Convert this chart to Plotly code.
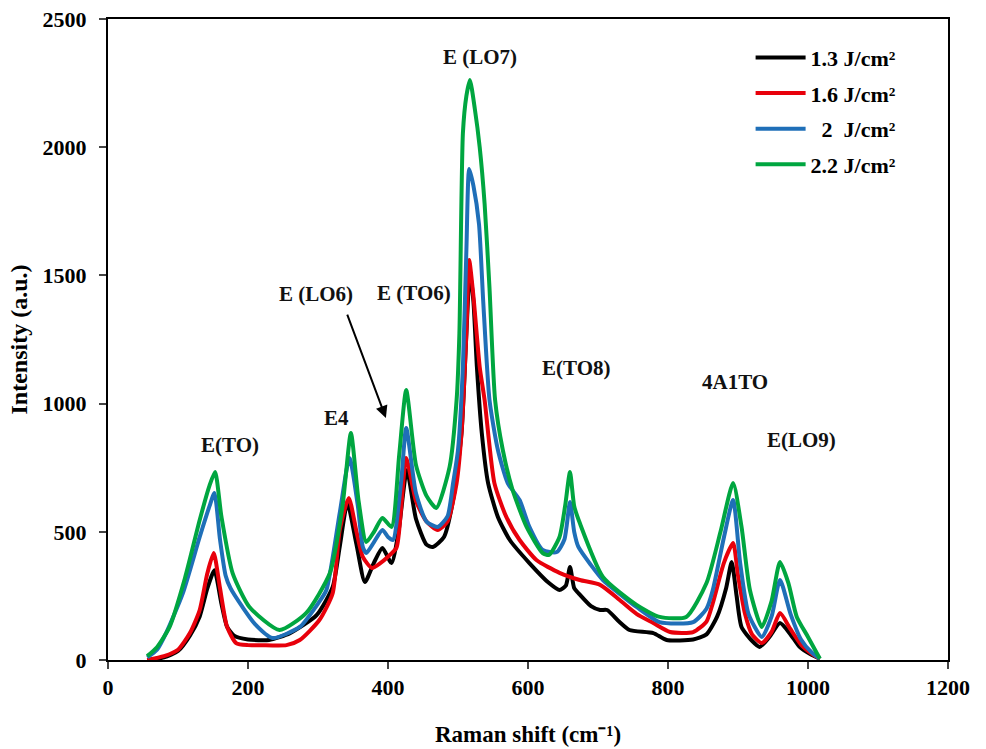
import plotly.graph_objects as go

# ---- data ----
x_13 = [56, 80, 100, 117, 131, 142, 152, 162, 170, 180, 200, 230, 260, 298, 321, 331, 342, 355, 367, 380, 392, 405,
        415, 427, 440, 455, 464, 480, 493, 505, 512, 517, 522, 527, 534, 543, 557, 574, 602, 630, 645, 654, 660, 666,
        672, 690, 703, 713, 730, 745, 779, 798, 836, 855, 870, 883, 891, 898, 905, 920, 931, 945, 960, 975, 988, 1005, 1017]
y_13 = [0, 10, 35, 95, 170, 280, 350, 220, 130, 95, 80, 78, 105, 175, 285, 441, 612, 450, 304, 380, 437, 378,
        500, 740, 550, 450, 441, 480, 624, 885, 1275, 1515, 1400, 1143, 885, 690, 558, 468, 378, 300, 273, 290, 363, 280,
        261, 210, 195, 195, 150, 117, 105, 78, 80, 100, 168, 280, 382, 250, 129, 75, 51, 90, 144, 100, 51, 20, 5]

x_16 = [56, 80, 100, 117, 131, 142, 151, 160, 170, 183, 200, 217, 255, 274, 302, 321, 331, 344, 355, 364, 377, 390,
        398, 412, 419, 426, 440, 455, 471, 485, 498, 505, 512, 516, 522, 531, 538, 552, 569, 588, 612, 645, 674, 703,
        731, 755, 779, 803, 836, 855, 864, 880, 893, 900, 910, 920, 934, 948, 960, 975, 990, 1005, 1017]
y_16 = [0, 15, 40, 105, 195, 339, 417, 280, 130, 66, 58, 58, 58, 78, 156, 261, 507, 632, 500, 402, 359, 380,
        398, 437, 600, 788, 620, 540, 507, 540, 690, 885, 1275, 1560, 1420, 1143, 1014, 690, 558, 468, 390, 340, 312, 293,
        234, 180, 144, 109, 109, 150, 222, 380, 456, 330, 180, 100, 66, 110, 183, 120, 60, 25, 5]

x_20 = [56, 70, 83, 107, 131, 145, 152, 160, 168, 175, 192, 210, 235, 274, 300, 312, 331, 345, 357, 364, 369, 380,
        392, 400, 407, 419, 426, 440, 455, 471, 485, 493, 500, 507, 512, 516, 522, 530, 536, 545, 557, 571, 588, 602,
        621, 641, 652, 660, 666, 672, 690, 707, 730, 755, 788, 836, 855, 864, 880, 893, 903, 915, 934, 948, 960, 975,
        990, 1005, 1017]
y_20 = [10, 40, 105, 261, 480, 600, 651, 470, 330, 280, 207, 140, 86, 129, 220, 273, 573, 788, 600, 441, 417, 460,
        507, 480, 468, 702, 905, 650, 540, 519, 560, 690, 819, 1143, 1600, 1915, 1850, 1700, 1400, 1014, 819, 690, 624, 519,
        429, 421, 470, 616, 500, 441, 370, 312, 260, 207, 148, 148, 200, 273, 480, 624, 380, 180, 90, 170, 312, 180,
        80, 30, 5]

x_22 = [56, 70, 88, 110, 131, 145, 153, 162, 178, 202, 245, 283, 317, 335, 347, 358, 369, 380, 392, 405, 416, 426,
        440, 455, 469, 488, 498, 502, 507, 512, 517, 524, 531, 538, 545, 553, 564, 578, 598, 621, 630, 645, 653, 660,
        666, 674, 707, 755, 788, 826, 855, 875, 893, 905, 917, 934, 948, 960, 972, 984, 1000, 1017]
y_22 = [15, 50, 129, 320, 546, 680, 733, 560, 339, 207, 117, 183, 339, 600, 885, 620, 460, 500, 554, 519, 800, 1053,
        760, 640, 593, 753, 1014, 1275, 2055, 2200, 2262, 2150, 2000, 1780, 1450, 1014, 819, 663, 519, 417, 410, 480, 600, 733,
        600, 534, 324, 215, 168, 168, 300, 500, 690, 520, 273, 129, 230, 382, 300, 168, 90, 5]

series_names = ["1.3 J/cm²", "1.6 J/cm²", "\u00a0\u00a02\u00a0\u00a0J/cm²", "2.2 J/cm²"]
series_colors = ["#000000", "#E8000B", "#1F6FB8", "#00A640"]

peak_labels = ["E(TO)", "E4", "E (LO6)", "E (TO6)", "E (LO7)", "E(TO8)", "4A1TO", "E(LO9)"]
peak_label_x = [174, 327, 297, 437, 532, 668, 896, 991]
peak_label_y = [838, 944, 1427, 1431, 2352, 1139, 1084, 858]

x_ticks = [0, 200, 400, 600, 800, 1000, 1200]
y_ticks = [0, 500, 1000, 1500, 2000, 2500]

FONT = "Liberation Serif, Times New Roman, serif"

fig = go.Figure()
for i, (xs, ys) in enumerate([(x_13, y_13), (x_16, y_16), (x_20, y_20), (x_22, y_22)]):
    fig.add_trace(go.Scatter(
        x=xs, y=ys, mode="lines", name=series_names[i], legendgroup=f"g{i}",
        line=dict(color=series_colors[i], width=4, shape="spline", smoothing=0.6),
    ))

for t, xv, yv in zip(peak_labels, peak_label_x, peak_label_y):
    fig.add_annotation(x=xv, y=yv, text=f"<b>{t}</b>", showarrow=False,
                       font=dict(family=FONT, size=21, color="#111111"))

# arrow pointing to E(LO6)
fig.add_annotation(x=397, y=944, ax=341, ay=1353, axref="x", ayref="y", xref="x", yref="y",
                   text="", showarrow=True, arrowhead=2, arrowsize=1.2, arrowwidth=2, arrowcolor="#000000")

fig.update_layout(
    width=986, height=749,
    margin=dict(l=108, r=38, t=19, b=89),
    paper_bgcolor="white", plot_bgcolor="white",
    font=dict(family=FONT, color="#000000"),
    showlegend=True,
    legend=dict(x=0.765, y=0.9725, xanchor="left", yanchor="top",
                font=dict(family=FONT, size=22, weight="bold"),
                tracegroupgap=4, itemwidth=50, bgcolor="rgba(0,0,0,0)"),
    xaxis=dict(range=[0, 1200], tickvals=x_ticks, ticks="outside", ticklen=7, tickwidth=2,
               showline=True, linewidth=2, linecolor="black", mirror=True, showgrid=False, zeroline=False,
               automargin=False,
               tickfont=dict(family=FONT, size=22, weight="bold"),
               title=dict(text="Raman shift (cm⁻¹)", font=dict(family=FONT, size=23, weight="bold"), standoff=26)),
    yaxis=dict(range=[0, 2500], tickvals=y_ticks, ticks="outside", ticklen=7, tickwidth=2,
               showline=True, linewidth=2, linecolor="black", mirror=True, showgrid=False, zeroline=False,
               automargin=False, ticklabelstandoff=8,
               tickfont=dict(family=FONT, size=22, weight="bold"),
               title=dict(text="Intensity (a.u.)", font=dict(family=FONT, size=24, weight="bold"), standoff=8)),
)

fig.write_html("out.html")
